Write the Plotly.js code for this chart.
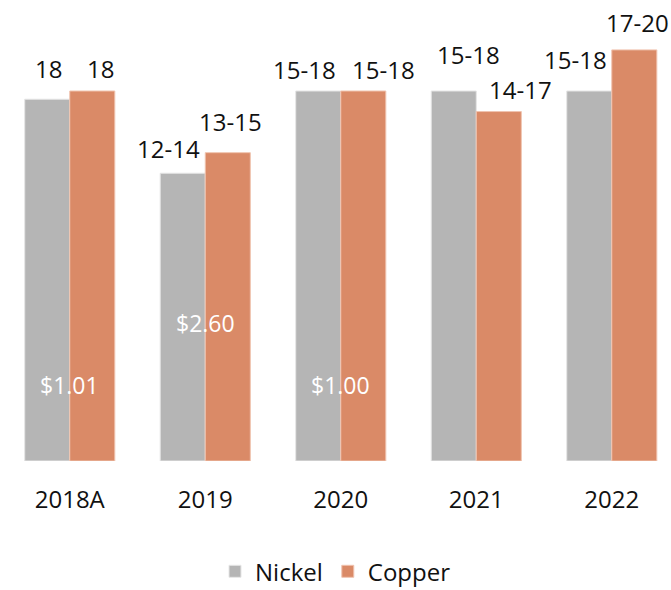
<!DOCTYPE html>
<html>
<head>
<meta charset="utf-8">
<script src="https://cdn.plot.ly/plotly-3.0.1.min.js"></script>
<style>html,body{margin:0;padding:0;background:#fff;}#chart{width:671px;height:590px;}</style>
</head>
<body>
<div id="chart"></div>
<script>
const categories = ['2018A', '2019', '2020', '2021', '2022'];
const nickelValues = [17.6, 14, 18, 18, 18];
const nickelLabels = ['18', '12-14', '15-18', '15-18', '15-18'];
const copperValues = [18, 15, 18, 17, 20];
const copperLabels = ['18', '13-15', '15-18', '14-17', '17-20'];
const dollarLabels = ['$1.01', '$2.60', '$1.00'];
const dollarCategories = ['2018A', '2019', '2020'];
const dollarY = [3.7, 6.7, 3.7];

// label nudges in pixels (style only), as placed in the original
const nickelNudgeX = [1, -14, -14, 15, -14];
const nickelNudgeY = [12, 6, 3, 18, 13];
const copperNudgeX = [8, 3, 20, 22, 3];
const copperNudgeY = [4, 13, 3, 4, 9];

const font = 'Open Sans, Noto Sans, sans-serif';
const bargap = 0.335;
const half = (1 - bargap) / 4;

const traces = [
  {
    type: 'bar', name: 'Nickel', x: categories, y: nickelValues,
    marker: {color: '#B5B5B5', line: {color: '#E6E6E6', width: 1}},
    hoverinfo: 'skip'
  },
  {
    type: 'bar', name: 'Copper', x: categories, y: copperValues,
    marker: {color: '#DA8A67', line: {color: '#F0C4B0', width: 1}},
    hoverinfo: 'skip'
  }
];

const annotations = [];
categories.forEach((c, i) => {
  annotations.push({
    x: i - half, y: nickelValues[i], xref: 'x', yref: 'y', yanchor: 'bottom',
    text: nickelLabels[i], showarrow: false, xshift: nickelNudgeX[i], yshift: nickelNudgeY[i],
    font: {family: font, size: 24, color: '#111'}
  });
  annotations.push({
    x: i + half, y: copperValues[i], xref: 'x', yref: 'y', yanchor: 'bottom',
    text: copperLabels[i], showarrow: false, xshift: copperNudgeX[i], yshift: copperNudgeY[i],
    font: {family: font, size: 24, color: '#111'}
  });
});
dollarLabels.forEach((t, i) => {
  annotations.push({
    x: categories.indexOf(dollarCategories[i]), y: dollarY[i], xref: 'x', yref: 'y',
    text: t, showarrow: false,
    font: {family: font, size: 23, color: '#FFFFFF'}
  });
});

const layout = {
  width: 671, height: 590,
  margin: {l: 2, r: 0, t: 10, b: 129},
  paper_bgcolor: '#fff', plot_bgcolor: '#fff',
  barmode: 'group', bargap: bargap, bargroupgap: 0,
  showlegend: true,
  legend: {orientation: 'h', x: 0.5, xanchor: 'center', xref: 'container', yref: 'container',
           y: 0.031, yanchor: 'middle',
           font: {family: font, size: 24, color: '#111'}, itemwidth: 30, traceorder: 'normal'},
  xaxis: {type: 'category', range: [-0.5, 4.437], showgrid: false, zeroline: false,
          showline: false, ticks: 'outside', ticklen: 17, tickcolor: 'rgba(0,0,0,0)',
          tickfont: {family: font, size: 24, color: '#111'}, fixedrange: true},
  yaxis: {range: [0, 21.94], visible: false, showgrid: false, zeroline: false, fixedrange: true},
  annotations: annotations
};

Plotly.newPlot('chart', traces, layout, {displayModeBar: false, staticPlot: true});
</script>
</body>
</html>
